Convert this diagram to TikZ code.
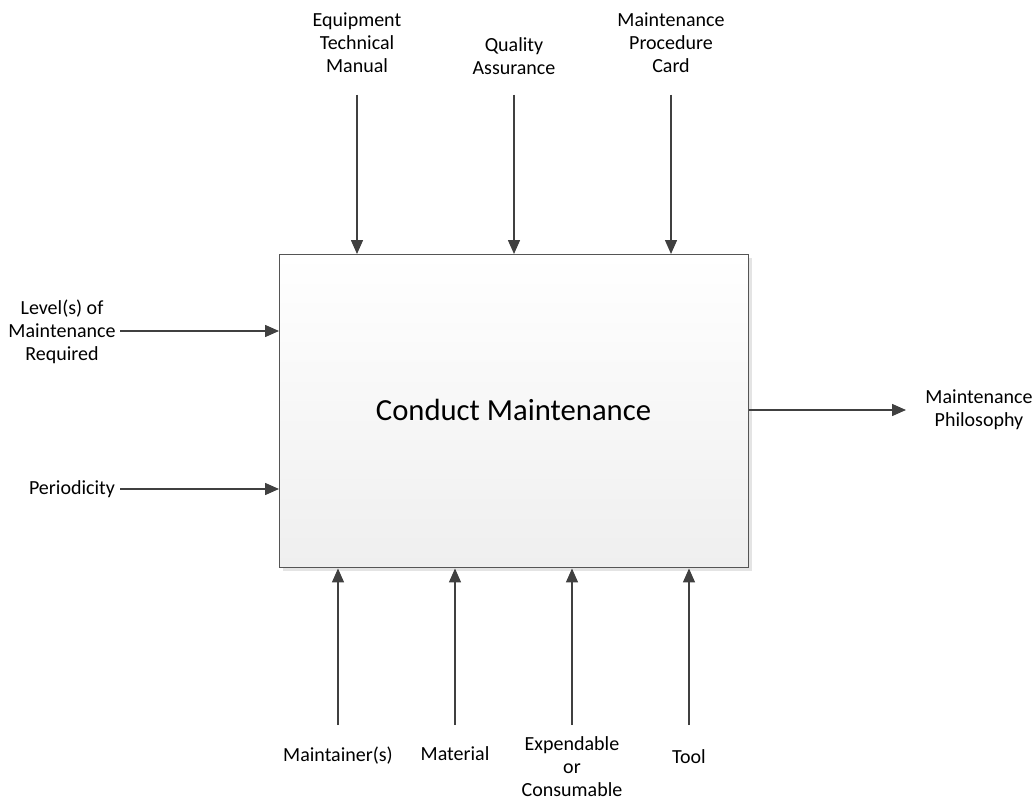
\documentclass[tikz,border=0pt]{standalone}
\usepackage{fontspec}
\setmainfont{Carlito}
\usetikzlibrary{arrows.meta}
\definecolor{edge}{HTML}{555555}
\definecolor{ink}{HTML}{404040}
\definecolor{shadowc}{HTML}{E4E4E4}
\definecolor{boxbottom}{HTML}{EFEFEF}
\tikzset{
  lbl/.style={align=center, inner sep=0pt, text=black,
    font=\fontsize{15}{17.25}\selectfont},
  flow/.style={draw=ink, line width=1.1pt,
    -{Triangle[width=9pt,length=10.5pt]}, fill=ink},
}
\begin{document}
\begin{tikzpicture}[x=0.75pt,y=-0.75pt]
\useasboundingbox (0,0) rectangle (1036,799);
% activity box with soft shadow
\fill[shadowc] (283,258) rectangle (752,571);
\shade[top color=white, bottom color=boxbottom] (279,254) rectangle (748,567);
\node[draw=edge, line width=1.1pt, minimum width=469*0.75pt, minimum height=313*0.75pt,
  inner sep=0pt, anchor=north west] (box) at (279,254) {};
\node[font=\fontsize{23}{27}\selectfont] (title) at (513.5,410) {Conduct Maintenance};
% controls (top)
\node[lbl] (etm) at (357,43) {Equipment\\Technical\\Manual};
\node[lbl] (qa) at (514,56) {Quality\\Assurance};
\node[lbl] (mpc) at (671,43) {Maintenance\\Procedure\\Card};
\coordinate (etmT) at (357,95);
\coordinate (qaT) at (514,95);
\coordinate (mpcT) at (671,95);
\draw[flow] (etmT) -- (etmT |- box.north);
\draw[flow] (qaT) -- (qaT |- box.north);
\draw[flow] (mpcT) -- (mpcT |- box.north);
% inputs (left)
\node[lbl] (lvl) at (62,332) {Level(s) of\\Maintenance\\Required};
\node[lbl] (per) at (72,489) {Periodicity};
\coordinate (lvlT) at (120,331);
\coordinate (perT) at (120,489);
\draw[flow] (lvlT) -- (lvlT -| box.west);
\draw[flow] (perT) -- (perT -| box.west);
% output (right)
\node[lbl] (phil) at (979,410) {Maintenance\\Philosophy};
\coordinate (philH) at (906,410);
\draw[flow] (box.east |- philH) -- (philH);
% mechanisms (bottom)
\node[lbl] (mnt) at (338,756) {Maintainer(s)};
\node[lbl] (mat) at (455,754) {Material};
\node[lbl] (exp) at (572,767) {Expendable\\or\\Consumable};
\node[lbl] (tool) at (689,757) {Tool};
\coordinate (mntT) at (338,725);
\coordinate (matT) at (455,725);
\coordinate (expT) at (572,725);
\coordinate (toolT) at (689,725);
\draw[flow] (mntT) -- (mntT |- box.south);
\draw[flow] (matT) -- (matT |- box.south);
\draw[flow] (expT) -- (expT |- box.south);
\draw[flow] (toolT) -- (toolT |- box.south);
\end{tikzpicture}
\end{document}
